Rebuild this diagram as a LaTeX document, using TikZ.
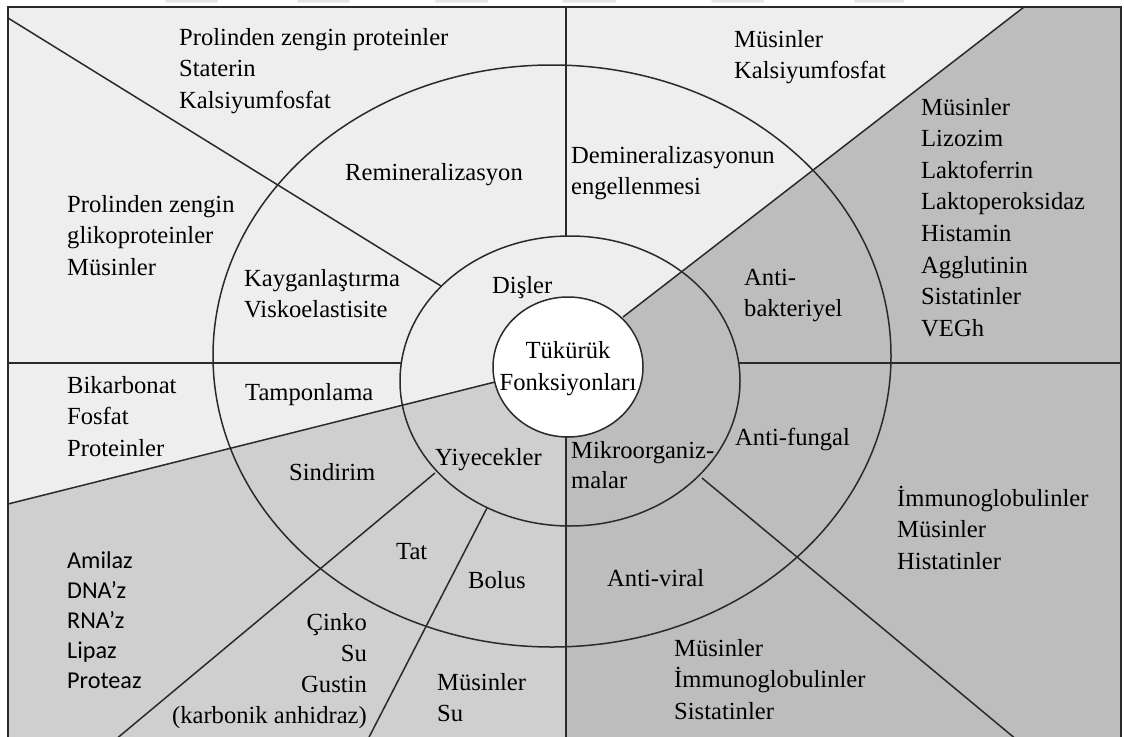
\documentclass[tikz,border=0pt]{standalone}
\usepackage{fontspec}
\setmainfont{Liberation Serif}
\newfontfamily\calibfont{Carlito}
\definecolor{lightreg}{HTML}{EEEEEE}
\definecolor{midreg}{HTML}{CFCFCF}
\definecolor{darkreg}{HTML}{BDBDBD}
\definecolor{linec}{HTML}{2A2A2A}
\definecolor{tabc}{HTML}{E6E6E6}
\newcommand{\txtstack}[6]{%
  \foreach \t [count=\i from 0] in {#6} {%
    \node[#5] (#1\i) at (#2, #3+#4*\i) {\t};%
  }}
\begin{document}
\begin{tikzpicture}[x=1pt, y=-1pt,
  divline/.style={draw=linec, line width=1.5pt},
  framel/.style={draw=linec, line width=2pt},
  lab/.style={font=\fontsize{24.6}{30}\selectfont, inner sep=0pt, anchor=base west},
  labr/.style={font=\fontsize{24.6}{30}\selectfont, inner sep=0pt, anchor=base east},
  labc/.style={font=\fontsize{24.6}{30}\selectfont, inner sep=0pt, anchor=base},
  sanslab/.style={font=\calibfont\fontsize{24.2}{30}\selectfont, inner sep=0pt, anchor=base west}]
\useasboundingbox (0,0) rectangle (1124,736);
\begin{scope}
\clip (0,0) rectangle (1124,736);
% faint tabs above the frame
\foreach \a/\b in {165/218, 297/350, 435/488, 562/616, 711/764, 854/904}
  \fill[tabc, rounded corners=1pt] (\a,0) rectangle (\b,2.5);
% key points
\coordinate (C) at (568,367);
\coordinate (FTL) at (8,7);
\coordinate (FTR) at (1121,7);
\coordinate (FBL) at (8,760);
\coordinate (FBR) at (1121,760);
\coordinate (L1a) at (8,18);      \coordinate (L1b) at (441,286);
\coordinate (V1a) at (566,7);     \coordinate (V1b) at (566,236);
\coordinate (L3a) at (623,317);   \coordinate (L3b) at (1024,7);
\coordinate (H1a) at (739,363);   \coordinate (H1b) at (1121,363);
\coordinate (H2a) at (8,363);     \coordinate (H2b) at (401,363);
\coordinate (L6a) at (495,382);   \coordinate (L6b) at (8,504);
\coordinate (L7a) at (435,473);   \coordinate (L7b) at (109,745);
\coordinate (L8a) at (487,508);   \coordinate (L8b) at (365,745);
\coordinate (V2a) at (566,437);   \coordinate (V2b) at (566,760);
\coordinate (L10a) at (702,478);  \coordinate (L10b) at (1023,745);
% region fills
\fill[lightreg] (L6b) -- (FTL) -- (L3b) -- (L3a) -- (C) -- (L6a) -- cycle;
\fill[darkreg] (L3a) -- (L3b) -- (FTR) -- (FBR) -- (V2b) -- (V2a) -- (C) -- cycle;
\fill[midreg] (L6b) -- (L6a) -- (C) -- (V2a) -- (V2b) -- (FBL) -- cycle;
% dividing lines
\draw[divline] (L1a) -- (L1b);
\draw[divline] (V1a) -- (V1b);
\draw[divline] (L3a) -- (L3b);
\draw[divline] (H1a) -- (H1b);
\draw[divline] (H2a) -- (H2b);
\draw[divline] (L6a) -- (L6b);
\draw[divline] (L7a) -- (L7b);
\draw[divline] (L8a) -- (L8b);
\draw[divline] (V2a) -- (V2b);
\draw[divline] (L10a) -- (L10b);
% rings
\draw[divline] (552,356) ellipse [x radius=339, y radius=291];
\draw[divline] (570,381) ellipse [x radius=170, y radius=145];
\draw[divline, fill=white] (C) ellipse [x radius=75, y radius=70];
% frame
\draw[framel] (FBL) -- (FTL) -- (FTR) -- (FBR);
\end{scope}
% centre text
\node[labc] (c0) at (568,358) {Tükürük};
\node[labc] (c1) at (568,390) {Fonksiyonları};
% upper left
\txtstack{tl}{179}{45}{31.6}{lab}{Prolinden zengin proteinler, Staterin, Kalsiyumfosfat}
\node[lab] (remin) at (345,180) {Remineralizasyon};
\txtstack{ul}{67}{212}{31.6}{lab}{Prolinden zengin, glikoproteinler, Müsinler}
\txtstack{kay}{244}{286}{31.6}{lab}{Kayganlaştırma, Viskoelastisite}
\node[lab] (disler) at (492,293) {Dişler};
% upper right
\txtstack{tr}{734}{47}{31.6}{lab}{Müsinler, Kalsiyumfosfat}
\txtstack{dem}{571}{163}{31.6}{lab}{Demineralizasyonun, engellenmesi}
\txtstack{rl}{921}{115}{31.6}{lab}{Müsinler, Lizozim, Laktoferrin, Laktoperoksidaz, Histamin, Agglutinin, Sistatinler, VEGh}
\txtstack{ab}{744}{285}{31.6}{lab}{Anti-, bakteriyel}
% left middle
\txtstack{bk}{67}{393}{31.6}{lab}{Bikarbonat, Fosfat, Proteinler}
\node[lab] (tampon) at (245,400) {Tamponlama};
\node[lab] (sindir) at (289,480) {Sindirim};
\node[lab] (yiyec) at (435,465) {Yiyecekler};
% right middle
\txtstack{mik}{571}{458}{30.5}{lab}{Mikroorganiz-, malar}
\node[lab] (afung) at (735,445) {Anti-fungal};
\txtstack{imm}{897}{506}{31.6}{lab}{İmmunoglobulinler, Müsinler, Histatinler}
% lower left
\txtstack{enz}{67}{568}{30}{sanslab}{Amilaz, DNA’z, RNA’z, Lipaz, Proteaz}
\node[lab] (tat) at (396,559) {Tat};
\node[lab] (bolus) at (468,588) {Bolus};
\txtstack{cin}{367}{630}{31}{labr}{Çinko, Su, Gustin, {(karbonik anhidraz)}}
\txtstack{ms}{437}{690}{31}{lab}{Müsinler, Su}
% lower right
\node[lab] (aviral) at (607,586) {Anti-viral};
\txtstack{mis}{674}{656}{31.5}{lab}{Müsinler, İmmunoglobulinler, Sistatinler}
\end{tikzpicture}
\end{document}
